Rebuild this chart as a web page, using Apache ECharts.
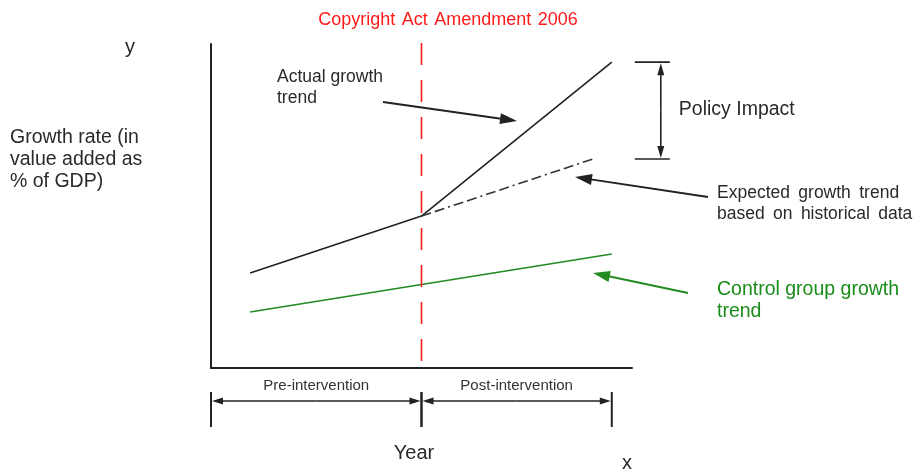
<!DOCTYPE html>
<html><head><meta charset="utf-8">
<script src="https://cdn.jsdelivr.net/npm/echarts@6/dist/echarts.min.js"></script>
<style>html,body{margin:0;padding:0;background:#fff}#chart{width:914px;height:471px}</style>
</head><body><div id="chart"></div>
<script>
// ---------- data ----------
const xRange = [0, 10];
const yRange = [0, 10];
const periodBounds = [0, 5, 9.52];
const periodLabels = ['Pre-intervention', 'Post-intervention'];
const interventionX = 5;
const interventionLabel = 'Copyright\u200aAct\u200aAmendment\u200a2006';
const actualX = [0.93, 5, 9.52];
const actualY = [2.93, 4.69, 9.44];
const expectedX = [5, 9.07];
const expectedY = [4.69, 6.45];
const controlX = [0.93, 9.52];
const controlY = [1.73, 3.52];
const impactX = 9.52;
const impactRange = [6.45, 9.44];

// ---------- helpers ----------
const FF = "'Liberation Sans', Arial, Helvetica, sans-serif";
const INK = '#222';
const TXT = '#2a2a2a';
const GREEN = '#228b22';
const RED = '#ff1a1a';
const zip = (xs, ys) => xs.map((x, i) => [x, ys[i]]);

function arrowEls(x1, y1, x2, y2, color, len, half, lw) {
  const dx = x2 - x1, dy = y2 - y1, d = Math.hypot(dx, dy);
  const ux = dx / d, uy = dy / d;
  const bx = x2 - ux * len, by = y2 - uy * len;
  const px = -uy, py = ux;
  return [
    { type: 'line', shape: { x1: x1, y1: y1, x2: bx + ux * 1, y2: by + uy * 1 }, style: { stroke: color, lineWidth: lw } },
    { type: 'polygon', shape: { points: [[x2, y2], [bx + px * half, by + py * half], [bx - px * half, by - py * half]] }, style: { fill: color } }
  ];
}
function textEl(text, x, y, size, color, align, vAlign, lineHeight) {
  return {
    type: 'text', x: x, y: y, silent: true,
    style: {
      text: text, font: size + 'px ' + FF, fill: color,
      align: align, verticalAlign: vAlign, textAlign: align, textVerticalAlign: vAlign,
      lineHeight: lineHeight || Math.round(size * 1.15)
    }
  };
}

const chart = echarts.init(document.getElementById('chart'), null, { renderer: 'canvas' });

const graphics = [].concat(
  [
    textEl(interventionLabel.replace(/\u200a/g, ' \u200a'), 448, 20, 18, RED, 'center', 'middle'),
    textEl('y', 130, 47, 20, TXT, 'center', 'middle'),
    textEl('x', 627, 463, 20, TXT, 'center', 'middle'),
    textEl('Year', 414, 453, 20, TXT, 'center', 'middle'),
    textEl('Growth rate (in\nvalue added as\n% of GDP)', 10, 127, 19.5, TXT, 'left', 'top', 22),
    textEl('Actual growth\ntrend', 277, 67, 17.5, TXT, 'left', 'top', 21),
    textEl('Expected \u2009growth \u2009trend\nbased \u2009on \u2009historical \u2009data', 717, 182.5, 17.5, TXT, 'left', 'top', 21),
    textEl('Control group growth\ntrend', 717, 279, 19.5, '#1a8c1a', 'left', 'top', 22)
  ],
  arrowEls(383, 102, 517, 121, INK, 17, 5.5, 2),
  arrowEls(708, 197, 575, 177, INK, 17, 5.5, 2),
  arrowEls(688, 293, 593, 273, GREEN, 17, 5.5, 2)
);

const option = {
  animation: false,
  backgroundColor: '#fff',
  grid: { left: 211, right: 282, top: 44, bottom: 103 },
  xAxis: {
    type: 'value', min: xRange[0], max: xRange[1],
    axisLine: { show: true, onZero: false, lineStyle: { color: INK, width: 2 } },
    axisTick: { show: false }, axisLabel: { show: false }, splitLine: { show: false }
  },
  yAxis: {
    type: 'value', min: yRange[0], max: yRange[1],
    axisLine: { show: true, onZero: false, lineStyle: { color: INK, width: 2 } },
    axisTick: { show: false }, axisLabel: { show: false }, splitLine: { show: false }
  },
  graphic: graphics,
  series: [
    {
      name: 'Control group', type: 'line', data: zip(controlX, controlY),
      symbol: 'none', silent: true, lineStyle: { color: GREEN, width: 1.6 }
    },
    {
      name: 'Actual growth', type: 'line', data: zip(actualX, actualY),
      symbol: 'none', silent: true, lineStyle: { color: INK, width: 1.6 }
    },
    {
      name: 'Expected growth', type: 'line', data: zip(expectedX, expectedY),
      symbol: 'none', silent: true, lineStyle: { color: '#333', width: 1.6, type: [10, 4, 10, 4, 2, 4] }
    },
    {
      name: 'Intervention', type: 'custom', clip: false, silent: true, z: 5,
      data: [[interventionX, yRange[1]]],
      renderItem: function (params, api) {
        const top = api.coord([api.value(0), yRange[1]]);
        const bot = api.coord([api.value(0), yRange[0]]);
        return {
          type: 'line',
          shape: { x1: top[0], y1: top[1] - 1, x2: bot[0], y2: bot[1] + 7 },
          style: { stroke: RED, lineWidth: 1.6, lineDash: [22, 15] }
        };
      }
    },
    {
      name: 'Periods', type: 'custom', clip: false, silent: true,
      data: periodBounds.slice(0, -1).map((s, i) => [s, periodBounds[i + 1]]),
      renderItem: function (params, api) {
        const a = api.coord([api.value(0), yRange[0]]);
        const b = api.coord([api.value(1), yRange[0]]);
        const y0 = a[1];
        const ay = y0 + 33;
        const children = [
          { type: 'line', shape: { x1: a[0], y1: y0 + 24, x2: a[0], y2: y0 + 59 }, style: { stroke: INK, lineWidth: 2 } },
          { type: 'line', shape: { x1: b[0], y1: y0 + 24, x2: b[0], y2: y0 + 59 }, style: { stroke: INK, lineWidth: 2 } }
        ];
        const mid = (a[0] + b[0]) / 2;
        arrowEls(mid, ay, a[0] + 1, ay, INK, 11, 3.5, 1.6).forEach(e => children.push(e));
        arrowEls(mid, ay, b[0] - 1, ay, INK, 11, 3.5, 1.6).forEach(e => children.push(e));
        children.push({
          type: 'text', x: mid, y: y0 + 18,
          style: { text: periodLabels[params.dataIndex], font: '15px ' + FF, fill: '#333',
            align: 'center', verticalAlign: 'middle', textAlign: 'center', textVerticalAlign: 'middle' }
        });
        return { type: 'group', children: children };
      }
    },
    {
      name: 'Policy impact', type: 'custom', clip: false, silent: true,
      data: [[impactX, impactRange[0], impactRange[1]]],
      renderItem: function (params, api) {
        const lo = api.coord([api.value(0), api.value(1)]);
        const hi = api.coord([api.value(0), api.value(2)]);
        const x0 = lo[0];
        const vx = x0 + 49;
        const children = [
          { type: 'line', shape: { x1: x0 + 23, y1: hi[1], x2: x0 + 58, y2: hi[1] }, style: { stroke: INK, lineWidth: 1.6 } },
          { type: 'line', shape: { x1: x0 + 23, y1: lo[1], x2: x0 + 58, y2: lo[1] }, style: { stroke: INK, lineWidth: 1.6 } }
        ];
        const midY = (hi[1] + lo[1]) / 2;
        arrowEls(vx, midY, vx, hi[1] + 1, INK, 12, 3.5, 1.6).forEach(e => children.push(e));
        arrowEls(vx, midY, vx, lo[1] - 1, INK, 12, 3.5, 1.6).forEach(e => children.push(e));
        children.push({
          type: 'text', x: x0 + 67, y: midY - 1,
          style: { text: 'Policy Impact', font: '19.5px ' + FF, fill: TXT,
            align: 'left', verticalAlign: 'middle', textAlign: 'left', textVerticalAlign: 'middle' }
        });
        return { type: 'group', children: children };
      }
    }
  ]
};
chart.setOption(option);
</script>
</body></html>
